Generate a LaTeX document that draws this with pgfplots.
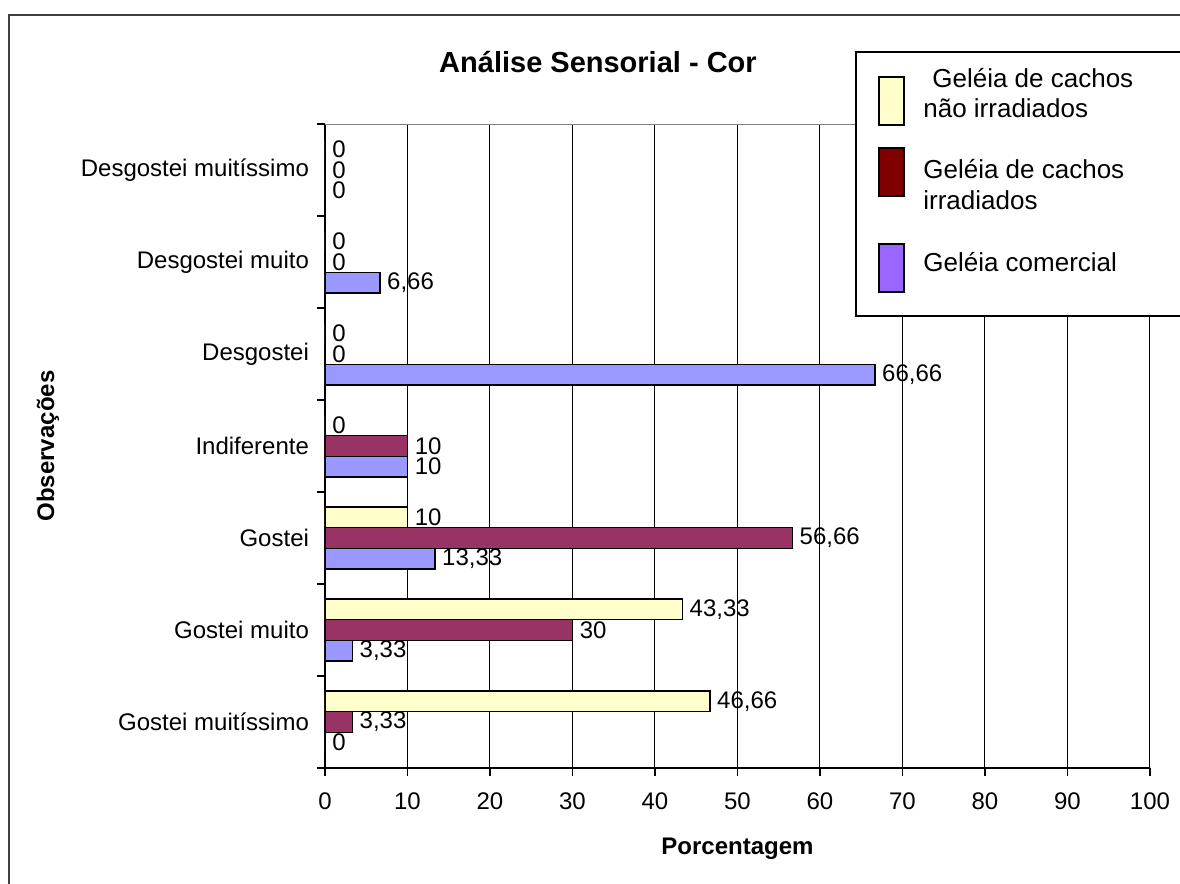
\documentclass[border=0pt]{standalone}
\usepackage{fontspec}
\setmainfont{Liberation Sans}
\usepackage{pgfplots}
\pgfplotsset{compat=1.18}
\definecolor{cYellow}{HTML}{FFFFCC}
\definecolor{cMaroon}{HTML}{993366}
\definecolor{cBlue}{HTML}{9999FF}
\definecolor{lMaroon}{HTML}{800000}
\definecolor{lPurple}{HTML}{9966FF}
\begin{document}
\begin{tikzpicture}
\useasboundingbox (-162.5pt,-58pt) rectangle (427.5pt,384pt);
\draw[black!75, line width=0.8pt] (-158pt,-80pt) rectangle (450pt,376.5pt);
\begin{axis}[
  at={(0,0)}, anchor=south west,
  scale only axis, width=412.5pt, height=322pt,
  xbar, bar width=0.225,
  xmin=0, xmax=100, ymin=-0.5, ymax=6.5,
  axis lines=left, axis line style={-, black, line width=0.6pt},
  xtick={0,10,...,100},
  xmajorgrids, grid style={black, line width=0.5pt},
  ytick={-0.5,0.5,...,6.5},
  yticklabels={,,,,,,,,},
  extra y ticks={0,1,2,3,4,5,6},
  extra y tick labels={Gostei muitíssimo, Gostei muito, Gostei, Indiferente, Desgostei, Desgostei muito, Desgostei muitíssimo},
  extra y tick style={tick style={draw=none}},
  tick align=outside, major tick length=4pt,
  tick style={black, line width=0.6pt},
  /pgf/number format/assume math mode=true,
  ticklabel style={font=\fontsize{12}{14}\selectfont},
  xticklabel style={anchor=north, yshift=-5pt},
  yticklabel style={xshift=-0.5pt},
  point meta=x,
  nodes near coords={\pgfmathprintnumber[use comma, fixed, precision=2, assume math mode=true]{\pgfplotspointmeta}},
  nodes near coords style={font=\fontsize{12}{14}\selectfont, anchor=west, black},
  every axis plot/.append style={draw=black, line width=0.6pt},
  title={Análise Sensorial - Cor},
  title style={at={(axis description cs:0.3309,1.0807)}, anchor=base, yshift=-6pt, font=\bfseries\fontsize{14.5}{17}\selectfont},
  xlabel={Porcentagem},
  xlabel style={at={(axis description cs:0.5,0)}, anchor=base, yshift=-43.5pt, font=\bfseries\fontsize{12}{14}\selectfont},
  ylabel={Observações},
  ylabel style={at={(axis description cs:-0.3358,0.5)}, anchor=center, font=\bfseries\fontsize{12}{14}\selectfont},
]
\addplot[fill=cYellow, bar shift=0.225] coordinates {(46.66,0) (43.33,1) (10,2) (0,3) (0,4) (0,5) (0,6)};
\addplot[fill=cMaroon, bar shift=0] coordinates {(3.33,0) (30,1) (56.66,2) (10,3) (0,4) (0,5) (0,6)};
\addplot[fill=cBlue, bar shift=-0.225] coordinates {(0,0) (3.33,1) (13.33,2) (10,3) (66.66,4) (6.66,5) (0,6)};
\draw[gray, line width=0.6pt] (rel axis cs:0,1) -- (rel axis cs:1,1);
\end{axis}
% legend
\draw[black, line width=0.6pt, fill=white] (265.5pt,226pt) rectangle (450pt,358pt);
\draw[black, line width=0.6pt, fill=cYellow] (277pt,321.5pt) rectangle (289.5pt,345.5pt);
\draw[black, line width=0.6pt, fill=lMaroon] (277pt,286pt) rectangle (289.5pt,310pt);
\draw[black, line width=0.6pt, fill=lPurple] (277pt,238pt) rectangle (289.5pt,262pt);
\begin{scope}[every node/.style={anchor=base west, inner sep=0pt, font=\fontsize{13}{15}\selectfont}]
\node at (299pt,340pt) {\hspace{4.5pt}Geléia de cachos};
\node at (299pt,325pt) {não irradiados};
\node at (299pt,294.5pt) {Geléia de cachos};
\node at (299pt,279pt) {irradiados};
\node at (299pt,248pt) {Geléia comercial};
\end{scope}
\end{tikzpicture}
\end{document}
